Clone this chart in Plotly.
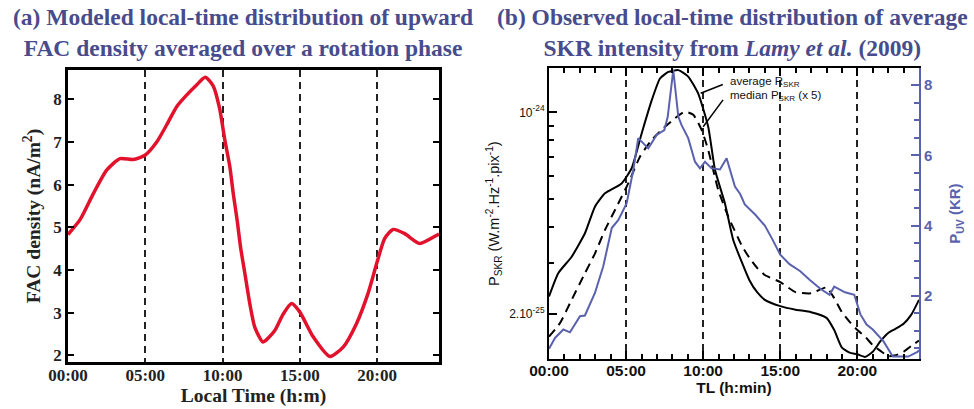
import plotly.graph_objects as go

# ---------------- data ----------------
# (a) FAC density vs local time
fac_hours = [0, 0.78, 1.64, 2.5, 3.36, 4.22, 4.98, 5.74, 6.38, 7.03, 7.67, 8.32, 8.88, 9.39, 9.8,
             10.15, 10.47, 10.69, 10.94, 11.16, 11.44, 11.76, 12.08, 12.62, 13.38, 13.9, 14.46, 15.0,
             15.86, 16.94, 17.8, 18.66, 19.41, 20.0, 20.49, 21.03, 21.78, 22.75, 23.94, 24.0]
fac_values = [4.83, 5.18, 5.79, 6.34, 6.61, 6.59, 6.69, 7.0, 7.4, 7.83, 8.1, 8.34, 8.52, 8.32, 7.8,
              7.04, 6.42, 5.79, 5.17, 4.54, 3.92, 3.21, 2.66, 2.31, 2.58, 2.95, 3.21, 3.01,
              2.43, 1.97, 2.19, 2.74, 3.45, 4.19, 4.74, 4.95, 4.85, 4.62, 4.83, 4.84]

# (b) SKR average power
skr_avg_hours = [0, 0.6, 1.47, 2.33, 2.98, 3.63, 4.71, 5.36, 6.01, 6.66, 7.2, 7.74, 8.39, 9.03, 9.68,
                 10.33, 10.77, 11.41, 11.95, 12.5, 13.0, 13.5, 14.0, 15.0, 16.0, 17.0, 18.0, 18.5,
                 19.0, 19.5, 20.0, 20.5, 21.0, 21.5, 22.0, 22.5, 23.0, 23.5, 24.0]
skr_avg = [2.30e-25, 2.77e-25, 3.16e-25, 3.81e-25, 4.71e-25, 5.24e-25, 5.67e-25, 6.4e-25, 8.45e-25,
           1.10e-24, 1.31e-24, 1.38e-24, 1.40e-24, 1.33e-24, 1.16e-24, 8.9e-25, 6.31e-25, 4.84e-25,
           3.61e-25, 3.03e-25, 2.62e-25, 2.38e-25, 2.24e-25, 2.13e-25, 2.07e-25, 2.03e-25, 1.94e-25,
           1.76e-25, 1.53e-25, 1.47e-25, 1.45e-25, 1.42e-25, 1.48e-25, 1.61e-25, 1.72e-25, 1.78e-25,
           1.85e-25, 1.99e-25, 2.24e-25]

# (b) SKR median power (x 5)
skr_med_hours = [0, 0.71, 1.47, 2.33, 2.98, 3.63, 4.39, 5.14, 5.9, 6.66, 7.41, 8.17, 8.82, 9.36, 9.9,
                 10.33, 10.98, 11.63, 12.5, 13.0, 13.5, 14.0, 15.0, 16.0, 17.0, 18.0, 18.5, 19.0,
                 19.5, 20.0, 20.5, 21.0, 21.5, 22.0, 22.5, 23.0, 23.5, 24.0]
skr_med = [1.67e-25, 1.86e-25, 2.24e-25, 2.77e-25, 3.24e-25, 3.91e-25, 4.71e-25, 5.67e-25, 7.02e-25,
           8.02e-25, 8.8e-25, 9.54e-25, 1.005e-24, 9.8e-25, 8.69e-25, 7.4e-25, 5.38e-25, 4.35e-25,
           3.46e-25, 3.13e-25, 2.89e-25, 2.73e-25, 2.58e-25, 2.38e-25, 2.36e-25, 2.47e-25, 2.27e-25,
           2.03e-25, 1.88e-25, 1.76e-25, 1.67e-25, 1.56e-25, 1.49e-25, 1.43e-25, 1.44e-25, 1.48e-25,
           1.55e-25, 1.62e-25]

# (b) UV auroral power (kR)
uv_hours = [0, 0.39, 0.93, 1.36, 2.01, 2.33, 2.98, 3.52, 4.07, 4.5, 5.04, 5.47, 5.79, 6.44, 6.98,
            7.48, 7.7, 8.06, 8.39, 8.6, 9.03, 9.47, 9.79, 10.12, 10.55, 11.09, 11.52, 12.06, 12.4,
            12.7, 13.4, 14.0, 14.5, 15.0, 15.6, 16.3, 16.9, 17.6, 18.2, 18.5, 19.2, 19.8, 20.2,
            20.6, 21.0, 21.7, 22.3, 23.3, 23.9, 24.0]
uv_values = [0.49, 0.8, 1.04, 0.96, 1.42, 1.44, 2.08, 2.84, 3.93, 4.16, 4.64, 5.59, 6.49, 6.2, 6.58,
             6.72, 7.1, 8.43, 7.1, 6.86, 6.49, 5.82, 5.63, 5.82, 5.63, 5.6, 5.92, 5.11, 4.9,
             4.6, 4.3, 4.0, 3.6, 3.17, 2.9, 2.7, 2.46, 2.2, 2.03, 2.26, 2.1, 2.03, 1.47,
             1.18, 1.04, 0.7, 0.27, 0.27, 0.4, 0.45]

hour_ticks = [0, 5, 10, 15, 20]
hour_labels = ["00:00", "05:00", "10:00", "15:00", "20:00"]
skr_tickvals = [2e-25, 1e-24]
skr_ticktext = ["2.10<sup>-25</sup>", "10<sup>-24</sup>"]
skr_minor = [3e-25, 4e-25, 5e-25, 6e-25, 7e-25, 8e-25, 9e-25]
uv_ticks = [2, 4, 6, 8]

# ---------------- style ----------------
RED = "#e2122c"
BLUE = "#5a62ae"
TITLE = "#484b8c"
SERIF = "Liberation Serif"
SANS = "Liberation Sans"
W, H = 974, 409

fig = go.Figure()

fig.add_trace(go.Scatter(x=fac_hours, y=fac_values, mode="lines",
                         line=dict(color=RED, width=3.5, shape="spline", smoothing=0.6),
                         xaxis="x", yaxis="y"))
fig.add_trace(go.Scatter(x=skr_avg_hours, y=skr_avg, mode="lines",
                         line=dict(color="black", width=2, shape="spline", smoothing=0.5),
                         xaxis="x2", yaxis="y2"))
fig.add_trace(go.Scatter(x=skr_med_hours, y=skr_med, mode="lines",
                         line=dict(color="black", width=2, dash="9px,6px", shape="spline", smoothing=0.5),
                         xaxis="x2", yaxis="y2"))
fig.add_trace(go.Scatter(x=uv_hours, y=uv_values, mode="lines",
                         line=dict(color=BLUE, width=2),
                         xaxis="x2", yaxis="y3"))

grid = dict(showgrid=True, gridcolor="#222222", griddash="7px,5px", gridwidth=1.5)

fig.update_layout(
    width=W, height=H,
    margin=dict(l=0, r=0, t=0, b=0, autoexpand=False),
    paper_bgcolor="white", plot_bgcolor="white",
    showlegend=False,
    xaxis=dict(domain=[68 / W, 439 / W], range=[0, 24], tickvals=hour_ticks, ticktext=hour_labels,
               ticks="", showline=True, linecolor="black", linewidth=2.5, mirror=True,
               zeroline=False, anchor="y", ticklabelstandoff=-4,
               tickfont=dict(family=SERIF, size=17, color="#222", weight="bold"),
               title=dict(text="Local Time (h:m)", standoff=0,
                          font=dict(family=SERIF, size=19.5, color="#222", weight="bold")),
               **grid),
    yaxis=dict(domain=[(H - 362) / H, (H - 70) / H], range=[1.84, 8.69], dtick=1, tick0=0,
               ticks="inside", ticklen=6, tickwidth=1.5, tickcolor="black",
               showline=True, linecolor="black", linewidth=2.5, mirror="ticks",
               showgrid=False, zeroline=False, anchor="x",
               tickfont=dict(family=SERIF, size=17, color="#222", weight="bold"),
               title=dict(text="FAC density (nA/m<sup>2</sup>)", standoff=8,
                          font=dict(family=SERIF, size=19.5, color="#222", weight="bold"))),
    xaxis2=dict(domain=[549 / W, 919 / W], range=[0, 24], tickvals=hour_ticks, ticktext=hour_labels,
                ticks="inside", ticklen=8, tickwidth=1.5, tickcolor="black",
                minor=dict(dtick=1, tick0=0, ticks="inside", ticklen=5, tickwidth=1.5, tickcolor="black"),
                showline=True, linecolor="black", linewidth=2, mirror="ticks",
                zeroline=False, anchor="y2", ticklabelstandoff=-4,
                tickfont=dict(family=SANS, size=15.5, color="#111", weight="bold"),
                title=dict(text="TL (h:min)", standoff=4,
                           font=dict(family=SANS, size=15.5, color="#111", weight="bold")),
                **grid),
    yaxis2=dict(domain=[(H - 359) / H, (H - 68.3) / H], type="log",
                range=[-24.8548, -23.8475], tickmode="array", tickvals=skr_tickvals, ticktext=skr_ticktext,
                ticks="inside", ticklen=8, tickwidth=1.5, tickcolor="black",
                minor=dict(tickmode="array", tickvals=skr_minor, ticks="inside", ticklen=5,
                           tickwidth=1.5, tickcolor="black"),
                showline=True, linecolor="black", linewidth=2, mirror=False,
                showgrid=False, zeroline=False, anchor="x2",
                tickfont=dict(family=SANS, size=12, color="#111"),
                title=dict(text="P<sub>SKR</sub> (W.m<sup>-2</sup>.Hz<sup>-1</sup>.pix<sup>-1</sup>)",
                           standoff=6, font=dict(family=SANS, size=14.5, color="#111"))),
    yaxis3=dict(overlaying="y2", side="right", anchor="x2", range=[0.2, 8.48],
                tickvals=uv_ticks, ticks="inside", ticklen=8, tickwidth=1.5, tickcolor=BLUE,
                minor=dict(dtick=0.5, tick0=0, ticks="inside", ticklen=5, tickwidth=1.5, tickcolor=BLUE),
                showline=True, linecolor=BLUE, linewidth=2, showgrid=False, zeroline=False,
                tickfont=dict(family=SANS, size=15, color=BLUE, weight="bold"),
                title=dict(text="P<sub>UV</sub> (KR)", standoff=18,
                           font=dict(family=SANS, size=15, color=BLUE, weight="bold"))),
)

fig.add_annotation(xref="paper", yref="paper", x=242.5 / W, y=1 - 32 / H, xanchor="center", yanchor="middle",
                   showarrow=False, align="center",
                   text="(a) Modeled local-time distribution of upward<br>FAC density averaged over a rotation phase",
                   font=dict(family=SERIF, size=23.5, color=TITLE, weight="bold"))
fig.add_annotation(xref="paper", yref="paper", x=732 / W, y=1 - 32 / H, xanchor="center", yanchor="middle",
                   showarrow=False, align="center",
                   text="(b) Observed local-time distribution of average<br>SKR intensity from <i>Lamy et al.</i> (2009)",
                   font=dict(family=SERIF, size=23.5, color=TITLE, weight="bold"))

# legend labels with pointer lines
fig.add_annotation(xref="x2", yref="y2", x=11.63, y=-23.895, xanchor="left", yanchor="middle",
                   showarrow=False, text="average R<sub>SKR</sub>",
                   font=dict(family=SANS, size=11.5, color="#111"))
fig.add_annotation(xref="x2", yref="y2", x=11.63, y=-23.9435, xanchor="left", yanchor="middle",
                   showarrow=False, text="median P<sub>SKR</sub> (x 5)",
                   font=dict(family=SANS, size=11.5, color="#111"))
fig.add_annotation(xref="x2", yref="y2", x=9.84, y=-23.934, ax=23.6, ay=-9.3, axref="pixel", ayref="pixel",
                   showarrow=True, arrowhead=0, arrowwidth=1.5, arrowcolor="black", text="", standoff=0)
fig.add_annotation(xref="x2", yref="y2", x=10.0, y=-24.05, ax=21, ay=-28.4, axref="pixel", ayref="pixel",
                   showarrow=True, arrowhead=0, arrowwidth=1.5, arrowcolor="black", text="", standoff=0)

fig.write_html("out.html")
